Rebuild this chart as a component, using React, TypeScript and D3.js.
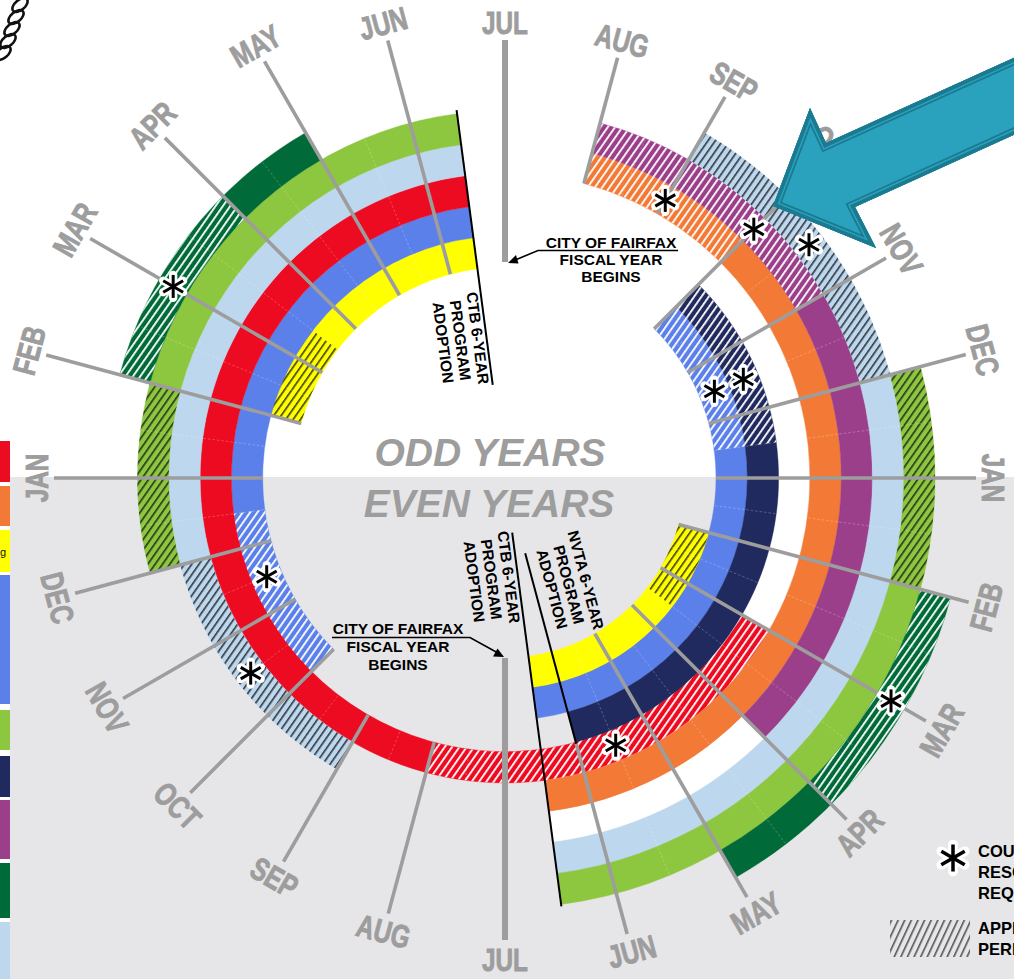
import React from 'react';
import * as d3 from 'd3';

const W = 1014;
const H = 979;
const CX = 505;
const CY = 478;

// ---------------- DATA ----------------
// processes and their colours (legend order, left edge)
const processNames = ['red', 'orange', 'yellow', 'blue', 'lightGreen', 'navy', 'purple', 'darkGreen', 'lightBlue'];
const processColors = ['#ec0b20', '#f37a36', '#ffff00', '#5b80ea', '#8dc63f', '#212a5e', '#9b3f8b', '#006b38', '#bdd7ee'];

// month ticks: position 0 = odd-year January (left), 6 = July (top), 12 = even-year January (right), 18 = July (bottom)
const monthLabels = ['JAN', 'FEB', 'MAR', 'APR', 'MAY', 'JUN', 'JUL', 'AUG', 'SEP', 'OCT', 'NOV', 'DEC',
  'JAN', 'FEB', 'MAR', 'APR', 'MAY', 'JUN', 'JUL', 'AUG', 'SEP', 'OCT', 'NOV', 'DEC'];
const monthPositions = [0, 1, 2, 3, 4, 5, 6, 7, 8, 9, 10, 11, 12, 13, 14, 15, 16, 17, 18, 19, 20, 21, 22, 23];

// ring segments (month positions; values above 24 wrap into the next cycle)
const segProcess = ['yellow', 'blue', 'red', 'lightBlue', 'lightGreen', 'darkGreen', 'blue', 'navy', 'orange', 'purple', 'lightBlue', 'lightGreen', 'darkGreen', 'yellow'];
const segRing = [0, 1, 2, 3, 4, 5, 0, 1, 3, 4, 5, 6, 7, -1];
const segStart = [1, 21, 14, 20, 23, 1, 9, 9, 7, 7, 8, 11, 13, 13];
const segEnd = [5.5, 29.5, 29.5, 29.5, 29.5, 4, 17.5, 17, 17.5, 15, 17.5, 17.5, 16, 17.5];
const segApprovalEnd = [2.5, 23.5, 19, 23, 25, 3, 11.5, 11.5, 9, 10, 11, 13, 15, 14.5];
const segHatchInk = ['dark', 'light', 'light', 'dark', 'dark', 'light', 'light', 'light', 'light', 'light', 'dark', 'dark', 'light', 'dark'];

// empty (white) ring slots
const gapRing = [2, 4];
const gapStart = [9, 15];
const gapEnd = [14, 17.5];

// council resolution required markers
const resolutionRing = [5, 3, 4, 5, 0, 1, 7, 2, 1, 3];
const resolutionMonth = [2, 8, 9, 9.5, 10.5, 10.5, 14, 16.5, 22.5, 21.5];

// program adoption markers
const adoptionText = [['CTB 6-YEAR', 'PROGRAM', 'ADOPTION'], ['CTB 6-YEAR', 'PROGRAM', 'ADOPTION'], ['NVTA 6-YEAR', 'PROGRAM', 'ADOPTION']];
const adoptionMonth = [5.5, 17.5, 17];

// City of Fairfax fiscal year begins
const fiscalMonth = [6, 18];
const fiscalText = ['CITY OF FAIRFAX', 'FISCAL YEAR', 'BEGINS'];

const legendNotes = [['COUNCIL', 'RESOLUTION', 'REQUIRED'], ['APPROVAL', 'PERIOD']];

// ---------------- LAYOUT ----------------
const labelRadius = [469, 493, 497, 499, 499, 471, 456, 453, 458, 466, 458, 495, 489, 498, 504, 501, 502, 490, 481, 469, 461, 463, 459, 463];
const adoptionR0 = [94, 55, 78];
const adoptionR1 = [371, 432, 275];
const adoptionTextAt = [[478, 338], [509, 577], [586, 580]];
const adoptionTextRot = [82.5, 82.5, 75];
const fiscalR0 = [216, 180];
const fiscalR1 = [438, 462];
const swatchY0 = [441, 486, 530, 575, 710, 756, 800, 863, 922];
const swatchY1 = [482, 526, 572, 704, 750, 797, 859, 918, 979];

const GRAY = '#9d9d9d';
const SANS = "'Liberation Sans', Arial, Helvetica, sans-serif";

function Asterisk({ x, y, size }: { x: number; y: number; size: number }) {
  const h = size / 2;
  const dirs = [90, 30, -30].map((d) => (d * Math.PI) / 180);
  const segs = dirs.map((a) => [x - h * Math.cos(a), y - h * Math.sin(a), x + h * Math.cos(a), y + h * Math.sin(a)]);
  return (
    <g>
      {segs.map((s, i) => (
        <line key={'h' + i} x1={s[0]} y1={s[1]} x2={s[2]} y2={s[3]} stroke="#fff" strokeWidth={size * 0.36} strokeLinecap="round" />
      ))}
      {segs.map((s, i) => (
        <line key={'b' + i} x1={s[0]} y1={s[1]} x2={s[2]} y2={s[3]} stroke="#000" strokeWidth={size * 0.13} strokeLinecap="butt" />
      ))}
    </g>
  );
}

export default function App() {
  const angle = d3.scaleLinear().domain([0, 24]).range([-Math.PI / 2, 1.5 * Math.PI]);
  const radius = d3.scaleLinear().domain([0, 1]).range([211, 242.3]);
  const color = d3.scaleOrdinal<string, string>().domain(processNames).range(processColors);
  const arc = d3.arc();
  const polar = (m: number, r: number): [number, number] => [CX + r * Math.sin(angle(m)), CY - r * Math.cos(angle(m))];

  const segs = segProcess.map((p, i) => ({
    p,
    ring: segRing[i],
    start: segStart[i],
    end: segEnd[i],
    hEnd: segApprovalEnd[i],
    ink: segHatchInk[i],
  }));

  const ringArc = (ring: number, a: number, b: number) =>
    arc({ innerRadius: radius(ring), outerRadius: radius(ring + 1), startAngle: angle(a), endAngle: angle(b) }) as string;

  // month lines: inner end at innermost ring present at that month
  const monthLines = monthPositions
    .filter((m) => fiscalMonth.indexOf(m) < 0)
    .map((m) => {
      const covering = segs.filter((s) => [m, m + 24].some((mm) => s.start - 1e-6 <= mm && mm <= s.end + 1e-6));
      let r0 = covering.length ? radius(d3.min(covering, (s) => s.ring) as number) : radius(0);
      adoptionMonth.forEach((am, i) => {
        if (Math.abs(am - m) < 1e-6) r0 = Math.max(r0, adoptionR1[i]);
      });
      const r1 = labelRadius[m] - 18;
      return { m, p0: polar(m, r0), p1: polar(m, r1) };
    });

  // faint half-month ticks inside the rings
  const faint: { p0: [number, number]; p1: [number, number] }[] = [];
  segs.forEach((s) => {
    for (let k = Math.floor(s.start); k + 0.5 < s.end; k++) {
      const h = k + 0.5;
      if (h > s.start) faint.push({ p0: polar(h, radius(s.ring) + 1), p1: polar(h, radius(s.ring + 1) - 1) });
    }
  });

  const arrowPts = [[773, 206], [810, 108], [826, 143], [1040, 46], [1040, 123], [855, 207], [876, 248]];
  const arrowD = 'M' + arrowPts.map((p) => p.join(',')).join('L') + 'Z';

  return (
    <svg
      width={W}
      height={H}
      viewBox={`0 0 ${W} ${H}`}
      style={{ position: 'absolute', left: 0, top: 0, display: 'block', overflow: 'hidden' }}
      fontFamily={SANS}
    >
      <defs>
        <pattern id="hatch-light" patternUnits="userSpaceOnUse" width="6" height="6" patternTransform="rotate(35)">
          <rect x="2" y="-1" width="1.8" height="8" fill="#ffffff" />
        </pattern>
        <pattern id="hatch-dark" patternUnits="userSpaceOnUse" width="6" height="6" patternTransform="rotate(35)">
          <rect x="2.2" y="-1" width="1.3" height="8" fill="#111111" />
        </pattern>
        <pattern id="hatch-legend" patternUnits="userSpaceOnUse" width="6" height="6" patternTransform="rotate(25)">
          <rect x="2.2" y="-1" width="1.3" height="8" fill="#333333" />
        </pattern>
        <clipPath id="arrow-clip">
          <path d={arrowD} />
        </clipPath>
      </defs>

      <rect x={0} y={0} width={W} height={H} fill="#ffffff" />
      <rect x={10} y={477} width={W - 10} height={H - 477} fill="#e6e6e8" />

      {/* top-left decorative loops */}
      <g fill="none" stroke="#111" strokeWidth={2.6}>
        {[[20, 5], [16, 17], [12, 29], [8, 41], [3, 53]].map((c, i) => (
          <ellipse key={i} cx={c[0]} cy={c[1]} rx={9} ry={5} transform={`rotate(-40 ${c[0]} ${c[1]})`} />
        ))}
      </g>

      {/* left legend swatches */}
      {processNames.map((p, i) => (
        <rect key={p} x={0} y={swatchY0[i]} width={10} height={swatchY1[i] - swatchY0[i]} fill={color(p)} />
      ))}
      <text x={0} y={556} fontSize={11} fill="#111">g</text>

      <g transform={`translate(${CX},${CY})`}>
        {gapRing.map((g, i) => (
          <path key={'gap' + i} d={ringArc(g, gapStart[i], gapEnd[i])} fill="#ffffff" />
        ))}
        {segs.map((s, i) => (
          <path key={'seg' + i} d={ringArc(s.ring, s.start, s.end)} fill={color(s.p)} stroke={color(s.p)} strokeWidth={0.4} />
        ))}
        {segs.map((s, i) => (
          <path key={'hat' + i} d={ringArc(s.ring, s.start, s.hEnd)} fill={`url(#hatch-${s.ink})`} />
        ))}
      </g>

      {faint.map((f, i) => (
        <line key={'f' + i} x1={f.p0[0]} y1={f.p0[1]} x2={f.p1[0]} y2={f.p1[1]} stroke="#ffffff" strokeOpacity={0.3} strokeWidth={0.8} strokeDasharray="2.5 2" />
      ))}

      {/* month lines */}
      {monthLines.map((l) => (
        <line key={'ml' + l.m} x1={l.p0[0]} y1={l.p0[1]} x2={l.p1[0]} y2={l.p1[1]} stroke={GRAY} strokeWidth={3.6} />
      ))}
      {fiscalMonth.map((m, i) => {
        const a = polar(m, fiscalR0[i]);
        const b = polar(m, fiscalR1[i]);
        return <line key={'fy' + i} x1={a[0]} y1={a[1]} x2={b[0]} y2={b[1]} stroke={GRAY} strokeWidth={6} />;
      })}

      {/* adoption lines */}
      {adoptionMonth.map((m, i) => {
        const a = polar(m, adoptionR0[i]);
        const b = polar(m, adoptionR1[i]);
        return <line key={'ad' + i} x1={a[0]} y1={a[1]} x2={b[0]} y2={b[1]} stroke="#000" strokeWidth={2} />;
      })}
      {adoptionText.map((lines, i) => (
        <g key={'adt' + i} transform={`translate(${adoptionTextAt[i][0]},${adoptionTextAt[i][1]}) rotate(${adoptionTextRot[i]})`}>
          {lines.map((t, j) => (
            <text key={j} x={0} y={j * 17.5} dy="0.36em" textAnchor="middle" fontSize={15.5} fontWeight={700} fill="#000">
              {t}
            </text>
          ))}
        </g>
      ))}

      {/* resolution markers */}
      {resolutionMonth.map((m, i) => {
        const p = polar(m, radius(resolutionRing[i] + 0.5));
        return <Asterisk key={'as' + i} x={p[0]} y={p[1]} size={23} />;
      })}

      {/* month labels */}
      {monthPositions.map((m) => {
        const p = polar(m, labelRadius[m]);
        const rot = m <= 12 ? (m - 6) * 15 : (m - 18) * 15;
        return (
          <text
            key={'lab' + m}
            transform={`translate(${p[0]},${p[1]}) rotate(${rot}) scale(0.76,1)`}
            textAnchor="middle"
            dy="0.36em"
            fontSize={32}
            fontWeight={700}
            fill={GRAY}
            stroke={GRAY}
            strokeWidth={0.9}
          >
            {monthLabels[m]}
          </text>
        );
      })}

      {/* odd / even years */}
      <text x={490} y={466} textAnchor="middle" fontSize={39} fontWeight={700} fontStyle="italic" fill={GRAY}>ODD YEARS</text>
      <text x={489} y={517} textAnchor="middle" fontSize={39} fontWeight={700} fontStyle="italic" fill={GRAY}>EVEN YEARS</text>

      {/* fiscal year annotations */}
      <g>
        {fiscalText.map((t, j) => (
          <text key={'ft' + j} x={611} y={248 + j * 17} textAnchor="middle" fontSize={15.5} fontWeight={700} fill="#000">{t}</text>
        ))}
        <path d="M678,250.5 L538,250.5 L514,260.5" fill="none" stroke="#000" strokeWidth={1.6} />
        <path d="M508,263 L516,255 L518.5,263.5 Z" fill="#000" />
        {fiscalText.map((t, j) => (
          <text key={'fb' + j} x={398} y={634 + j * 18} textAnchor="middle" fontSize={15.5} fontWeight={700} fill="#000">{t}</text>
        ))}
        <path d="M332,637.5 L470,637.5 L498,653" fill="none" stroke="#000" strokeWidth={1.6} />
        <path d="M504,657 L493,656.5 L497.5,648.5 Z" fill="#000" />
      </g>

      {/* right legend */}
      <Asterisk x={953} y={858} size={27} />
      {legendNotes[0].map((t, j) => (
        <text key={'ln0' + j} x={978} y={857 + j * 21} fontSize={16.5} fontWeight={700} fill="#000">{t}</text>
      ))}
      <rect x={890} y={920} width={80} height={37} fill="url(#hatch-legend)" />
      {legendNotes[1].map((t, j) => (
        <text key={'ln1' + j} x={978} y={934 + j * 21} fontSize={16.5} fontWeight={700} fill="#000">{t}</text>
      ))}

      {/* teal arrow */}
      <g>
        <path d={arrowD} fill="#2aa2be" />
        <g clipPath="url(#arrow-clip)" fill="none" strokeLinejoin="miter">
          <path d={arrowD} stroke="#1b7a8f" strokeWidth={14} />
          <path d={arrowD} stroke="#2aa2be" strokeWidth={10.5} />
          <path d={arrowD} stroke="#1b7a8f" strokeWidth={7.5} />
        </g>
      </g>
    </svg>
  );
}
